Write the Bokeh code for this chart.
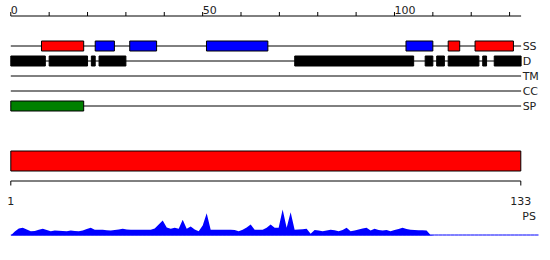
from bokeh.plotting import figure
from bokeh.models import Range1d
from bokeh.core.properties import value
from bokeh.embed import file_html
from bokeh.resources import INLINE

# ---------------- data ----------------
seq_len = 133
top_ticks = list(range(0, 131, 10))
top_tick_labels = {0: "0", 50: "50", 100: "100"}

tracks = ["SS", "D", "TM", "CC", "SP"]

ss_starts = [8, 22, 31, 51, 103, 114, 121]
ss_ends = [19, 27, 38, 67, 110, 117, 131]
ss_types = ["H", "E", "E", "E", "E", "H", "H"]

dis_starts = [0, 10, 21, 23, 74, 108, 111, 114, 123, 126]
dis_ends = [9, 20, 22, 30, 105, 110, 113, 122, 124, 133]

tm_starts = []
tm_ends = []
cc_starts = []
cc_ends = []
sp_starts = [0]
sp_ends = [19]

domain_start = 1
domain_end = 133
bottom_tick_labels = ["1", "133"]
profile_label = "PS"

ps_values = [
    0, 4, 7, 7.7, 6, 4.3, 4.5, 5.8, 6.7, 5.5,
    4.2, 5, 4.8, 4.6, 4.3, 5, 4.6, 4.3, 5, 6.5,
    7.7, 5.8, 5.7, 5.7, 5.3, 5, 5.5, 6, 6.7, 6,
    5.7, 5.7, 5.7, 5.7, 5.7, 5.7, 7, 11, 15, 8,
    6.7, 7.7, 6.7, 15.7, 6.7, 9, 6, 4.3, 10, 22.3,
    5.7, 5.7, 5.7, 5.7, 5.7, 5.7, 5.5, 4.3, 5.7, 8,
    11, 5.7, 5.7, 5.7, 7.7, 11, 7.7, 7.7, 26, 7.7,
    23.3, 5.7, 6, 6.3, 6.7, 1.7, 5.5, 5, 4.3, 5,
    5.7, 5.2, 4.3, 5.5, 7.7, 4.3, 5, 6, 7, 7.7,
    5, 6.7, 5.5, 5, 5.5, 4.3, 5.5, 6.5, 7.7, 6.5,
    5.7, 5.5, 5.3, 5.2, 5, 0.5, 0, 0, 0, 0,
    0, 0, 0, 0, 0, 0, 0, 0, 0, 0,
    0, 0, 0, 0, 0, 0, 0, 0, 0, 0,
    0, 0, 0,
]
ps_res = list(range(1, len(ps_values) + 1))

# ---------------- layout ----------------
W, H = 550, 260
left_px = 10.3
top_ppu = (520.6 - left_px) / seq_len
res_ppu = (520.3 - left_px) / 132
ps_ppu = (538.0 - left_px) / 132

FONT = value("DejaVu Sans")

p = figure(width=W, height=H, output_backend="svg", toolbar_location=None,
           x_range=Range1d(-left_px / top_ppu, (W - left_px) / top_ppu),
           y_range=Range1d(H, 0), min_border=0,
           x_axis_location=None, y_axis_location=None)
p.extra_x_ranges = {
    "res": Range1d(1 - left_px / res_ppu, 1 + (W - left_px) / res_ppu),
    "ps": Range1d(1 - left_px / ps_ppu, 1 + (W - left_px) / ps_ppu),
}
p.extra_y_ranges = {"ps": Range1d(-(H - 235), 235)}
p.xgrid.visible = False
p.ygrid.visible = False
p.outline_line_color = None
p.background_fill_color = "white"
p.border_fill_color = "white"

# top ruler
axis_y = 15.5
p.segment(x0=[0], y0=[axis_y], x1=[seq_len], y1=[axis_y], line_color="black", line_width=1)
p.segment(x0=top_ticks, y0=[axis_y - 4] * len(top_ticks), x1=top_ticks,
          y1=[axis_y] * len(top_ticks), line_color="black", line_width=1)
lab_x = list(top_tick_labels.keys())
p.text(x=lab_x, y=[9.5] * len(lab_x), text=list(top_tick_labels.values()),
       text_font=FONT, text_font_size="11px", text_align="left",
       text_baseline="alphabetic", text_color="#222222")

# tracks
row_y = {t: 45.5 + 15 * i for i, t in enumerate(tracks)}
for t in tracks:
    p.segment(x0=[0], y0=[row_y[t]], x1=[seq_len], y1=[row_y[t]], line_color="black", line_width=1)
p.text(x=[seq_len + 0.4] * len(tracks), y=[row_y[t] + 0.5 for t in tracks], text=tracks,
       text_font=FONT, text_font_size="11px", text_align="left",
       text_baseline="middle", text_color="#222222")

def boxes(starts, ends, track, fill, half=5):
    if not starts:
        return
    y = row_y[track]
    p.quad(left=starts, right=ends, top=[y - half] * len(starts), bottom=[y + half] * len(starts),
           fill_color=fill, line_color="black", line_width=1)

ss_col = {"H": "#ff0000", "E": "#0000ff"}
p.quad(left=ss_starts, right=ss_ends, top=[row_y["SS"] - 5] * len(ss_starts),
       bottom=[row_y["SS"] + 5] * len(ss_starts),
       fill_color=[ss_col[s] for s in ss_types], line_color="black", line_width=1)
boxes(dis_starts, dis_ends, "D", "black")
boxes(tm_starts, tm_ends, "TM", "#ff8c00")
boxes(cc_starts, cc_ends, "CC", "#800080")
boxes(sp_starts, sp_ends, "SP", "#008000")

# domain bar
p.quad(left=[domain_start], right=[domain_end], top=[150.5], bottom=[170.5],
       fill_color="#ff0000", line_color="black", line_width=1, x_range_name="res")

# bottom ruler
by = 180.5
p.segment(x0=[domain_start], y0=[by], x1=[domain_end], y1=[by], line_color="black",
          line_width=1, x_range_name="res")
p.segment(x0=[domain_start, domain_end], y0=[by, by], x1=[domain_start, domain_end],
          y1=[by + 4.5, by + 4.5], line_color="black", line_width=1, x_range_name="res")
p.text(x=[domain_start, domain_end], y=[200.5, 200.5], text=bottom_tick_labels,
       text_font=FONT, text_font_size="11px", text_align="center",
       text_baseline="alphabetic", text_color="#222222", x_range_name="res")
p.text(x=[seq_len + 0.3], y=[215.5], text=[profile_label],
       text_font=FONT, text_font_size="11px", text_align="left",
       text_baseline="alphabetic", text_color="#222222")

# profile
p.varea(x=ps_res, y1=[0] * len(ps_res), y2=ps_values, fill_color="#0000ff",
        x_range_name="ps", y_range_name="ps")
p.line(x=ps_res, y=[0.5] * len(ps_res), line_color="#0000ff", line_width=1,
       x_range_name="ps", y_range_name="ps")

open("out.html", "w").write(file_html(p, INLINE))
